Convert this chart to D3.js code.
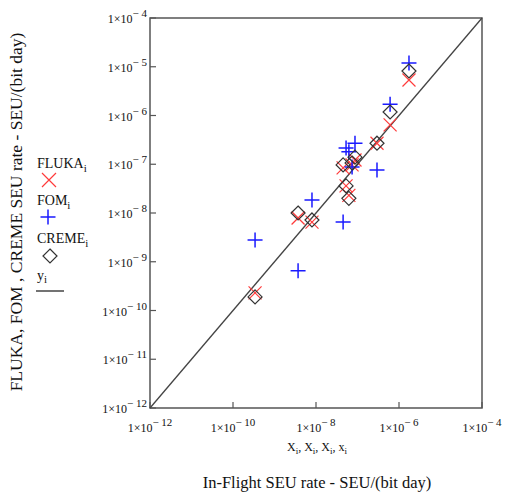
<!DOCTYPE html>
<html>
<head>
<meta charset="utf-8">
<script src="https://cdn.jsdelivr.net/npm/d3@7"></script>
<style>
  body { margin: 0; background: #fff; }
  text { font-family: "Liberation Serif", "DejaVu Serif", serif; fill: #111; }
</style>
</head>
<body>
<div id="content"></div>
<script>
// Screen dimensions
var w = 506;
var h = 493;

// In-flight rate (x) for each device, and the three predictions
var inFlight = [3.4e-10, 3.7e-9, 8.0e-9, 4.5e-8, 5.3e-8, 6.2e-8, 7.4e-8, 8.7e-8, 2.95e-7, 6.1e-7, 1.74e-6];
var fluka    = [2.3e-10, 7.9e-9, 6.5e-9, 8.4e-8, 3.6e-8, 2.3e-8, 9.7e-8, 1.22e-7, 2.7e-7, 6.4e-7, 5.35e-6];
var fom      = [2.8e-9, 6.5e-10, 1.85e-8, 6.5e-9, 2.15e-7, 1.8e-7, 8.8e-8, 2.7e-7, 7.6e-8, 1.7e-6, 1.2e-5];
var creme    = [1.9e-10, 1.0e-8, 7.2e-9, 9.7e-8, 3.6e-8, 2.0e-8, 1.06e-7, 1.4e-7, 2.7e-7, 1.18e-6, 8.2e-6];

// Ticks
var xTicks = [-12, -10, -8, -6, -4];
var yTicks = [-4, -5, -6, -7, -8, -9, -10, -11, -12];

// Plot box
var boxL = 150, boxR = 482, boxT = 18, boxB = 408;

var svg = d3.select("#content")
    .append("svg")
    .attr("width", w)
    .attr("height", h);

var x = d3.scaleLog().domain([1e-12, 1e-4]).range([boxL, boxR]);
var y = d3.scaleLog().domain([1e-12, 1e-4]).range([boxB, boxT]);

// frame
svg.append("rect")
   .attr("x", boxL).attr("y", boxT)
   .attr("width", boxR - boxL).attr("height", boxB - boxT)
   .attr("fill", "none")
   .attr("stroke", "#555")
   .attr("stroke-width", 1.5);

// ticks (inward)
svg.selectAll(".xt").data(xTicks).enter().append("line")
   .attr("x1", function(d) { return x(Math.pow(10, d)); })
   .attr("x2", function(d) { return x(Math.pow(10, d)); })
   .attr("y1", boxB).attr("y2", boxB - 6)
   .attr("stroke", "#555").attr("stroke-width", 1.2);
svg.selectAll(".yt").data(yTicks).enter().append("line")
   .attr("y1", function(d) { return y(Math.pow(10, d)); })
   .attr("y2", function(d) { return y(Math.pow(10, d)); })
   .attr("x1", boxL).attr("x2", boxL + 6)
   .attr("stroke", "#555").attr("stroke-width", 1.2);

// tick labels: 1x10^n
function expLabel(sel) {
  sel.append("tspan").text("1\u00d710");
  sel.append("tspan")
     .attr("dy", -6)
     .attr("font-size", 11)
     .text(function(d) { return "\u2212 " + Math.abs(d); });
}
svg.selectAll(".yl").data(yTicks).enter().append("text")
   .attr("x", boxL - 3)
   .attr("y", function(d) { return y(Math.pow(10, d)) + 5; })
   .attr("text-anchor", "end")
   .attr("font-size", 12)
   .call(expLabel);
svg.selectAll(".xl").data(xTicks).enter().append("text")
   .attr("x", function(d) { return x(Math.pow(10, d)); })
   .attr("y", 432)
   .attr("text-anchor", "middle")
   .attr("font-size", 12)
   .call(expLabel);

// y = x line
svg.append("line")
   .attr("x1", x(1e-12)).attr("y1", y(1e-12))
   .attr("x2", x(1e-4)).attr("y2", y(1e-4))
   .attr("stroke", "#444").attr("stroke-width", 1.3);

// markers
function crossPath(s) { return "M" + (-s) + "," + (-s) + "L" + s + "," + s + "M" + (-s) + "," + s + "L" + s + "," + (-s); }
function plusPath(s) { return "M" + (-s) + ",0L" + s + ",0M0," + (-s) + "L0," + s; }
function diamondPath(s) { return "M0," + (-s) + "L" + s + ",0L0," + s + "L" + (-s) + ",0Z"; }

svg.selectAll(".fluka").data(fluka).enter().append("path")
   .attr("transform", function(d, i) { return "translate(" + x(inFlight[i]) + "," + y(d) + ")"; })
   .attr("d", crossPath(6.5))
   .attr("fill", "none").attr("stroke", "#ff3b3b").attr("stroke-width", 1.2);
svg.selectAll(".fom").data(fom).enter().append("path")
   .attr("transform", function(d, i) { return "translate(" + x(inFlight[i]) + "," + y(d) + ")"; })
   .attr("d", plusPath(7.5))
   .attr("fill", "none").attr("stroke", "#1a1aff").attr("stroke-width", 1.5);
svg.selectAll(".creme").data(creme).enter().append("path")
   .attr("transform", function(d, i) { return "translate(" + x(inFlight[i]) + "," + y(d) + ")"; })
   .attr("d", diamondPath(7))
   .attr("fill", "none").attr("stroke", "#333").attr("stroke-width", 1.2);

// legend
function subLabel(g, xx, yy, main, sub) {
  var t = g.append("text").attr("x", xx).attr("y", yy).attr("font-size", 14);
  t.append("tspan").text(main);
  t.append("tspan").attr("dy", 4).attr("font-size", 11).text(sub);
}
var lg = svg.append("g");
subLabel(lg, 37, 168, "FLUKA", "i");
lg.append("path").attr("transform", "translate(49,180)").attr("d", crossPath(7))
  .attr("fill", "none").attr("stroke", "#ff3b3b").attr("stroke-width", 1.2);
subLabel(lg, 37, 205, "FOM", "i");
lg.append("path").attr("transform", "translate(48,217)").attr("d", plusPath(7.5))
  .attr("fill", "none").attr("stroke", "#1a1aff").attr("stroke-width", 1.5);
subLabel(lg, 37, 243, "CREME", "i");
lg.append("path").attr("transform", "translate(50,256)").attr("d", diamondPath(7))
  .attr("fill", "none").attr("stroke", "#333").attr("stroke-width", 1.2);
var yl = lg.append("text").attr("x", 37).attr("y", 280).attr("font-size", 14);
yl.append("tspan").text("y");
yl.append("tspan").attr("dy", 3).attr("font-size", 11).text("i");
lg.append("line").attr("x1", 36).attr("x2", 64).attr("y1", 291).attr("y2", 291)
  .attr("stroke", "#444").attr("stroke-width", 1.5);

// axis titles
svg.append("text")
   .attr("transform", "translate(22,212) rotate(-90)")
   .attr("text-anchor", "middle")
   .attr("font-size", 17.5)
   .text("FLUKA, FOM , CREME SEU rate - SEU/(bit day)");

var xs = svg.append("text").attr("x", 317).attr("y", 451).attr("text-anchor", "middle").attr("font-size", 12);
["X", "X", "X", "x"].forEach(function(s, i) {
  xs.append("tspan").attr("dy", i ? -3 : 0).text((i ? ", " : "") + s);
  xs.append("tspan").attr("dy", 3).attr("font-size", 9).text("i");
});

svg.append("text")
   .attr("x", 317).attr("y", 488)
   .attr("text-anchor", "middle")
   .attr("font-size", 16.5)
   .text("In-Flight SEU rate - SEU/(bit day)");
</script>
</body>
</html>
